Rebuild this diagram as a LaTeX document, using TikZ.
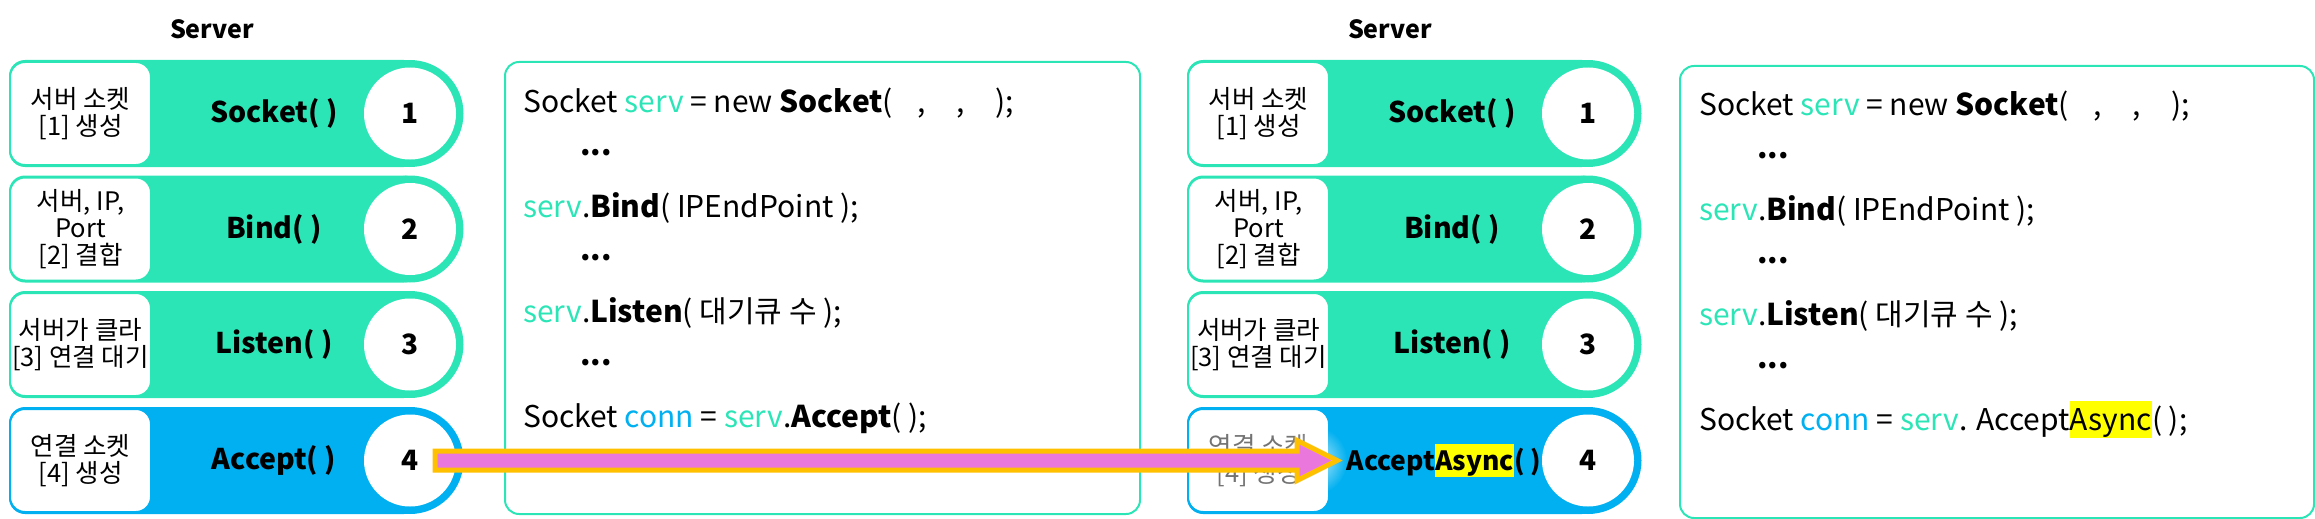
\documentclass[tikz,border=0pt]{standalone}
\usepackage{fontspec}
\setmainfont{Noto Sans CJK KR}
\usepackage{tikz}
\usetikzlibrary{calc,positioning,fadings}
\definecolor{tealc}{RGB}{44,229,183}
\definecolor{bluec}{RGB}{0,176,240}
\definecolor{goldc}{RGB}{255,192,0}
\definecolor{pinkc}{RGB}{234,120,220}
\definecolor{hlyel}{RGB}{255,255,0}
\newcommand{\sv}{\textcolor{tealc}{serv}}
\newcommand{\hlbox}[1]{{\setlength{\fboxsep}{0pt}\colorbox{hlyel}{\rule[-0.25em]{0pt}{1.22em}#1}}}
\tikzfading[name=glowfade, inner color=transparent!25, outer color=transparent!100]
\tikzset{
    % 제목과 단계 표시
    srvtitle/.style={font=\fontsize{25}{30}\selectfont\bfseries},
    labelbox/.style={
        draw=tealc, line width=2pt, fill=white, rounded corners=15pt,
        minimum width=141pt, minimum height=103pt, inner sep=0pt,
        align=center, font=\fontsize{25.5}{27}\selectfont
    },
    funclabel/.style={font=\fontsize{28.5}{32}\selectfont\bfseries},
    numcircle/.style={
        circle, fill=white, minimum size=92pt, inner sep=0pt,
        font=\fontsize{28}{30}\selectfont\bfseries
    },
    % 코드 상자
    codebox/.style={draw=tealc, line width=2pt, rounded corners=14pt, anchor=north west},
    codetxt/.style={anchor=base west, inner sep=0pt, font=\fontsize{30}{36}\selectfont},
    bigarrow/.style={draw=goldc, fill=pinkc, line width=5pt, line join=miter}
}
\begin{document}
\begin{tikzpicture}[x=1pt,y=-1pt]
    \useasboundingbox (0,0) rectangle (2315,519);

    \foreach \dx in {0,1178}{
      \foreach \yc/\col in {113.5/tealc,229/tealc,344.5/tealc,460.5/bluec}{
        \fill[\col, rounded corners=16pt] (9+\dx,\yc-53.5) rectangle (420+\dx,\yc+53.5);
        \fill[\col] (410+\dx,\yc) circle (53.5);
      }
    }

    \node[srvtitle] (srvA) at (212,29) {Server};
    \node[srvtitle] (srvB) at (1390,29) {Server};

    \node[labelbox] (lbA1) at (80.5,113.5) {서버 소켓\\{[1]} 생성};
    \node[labelbox] (lbA2) at (80.5,229) {서버, IP,\\Port\\{[2]} 결합};
    \node[labelbox] (lbA3) at (80.5,344.5) {서버가 클라\\{[3]} 연결 대기};
    \node[labelbox, draw=bluec] (lbA4) at (80.5,460.5) {연결 소켓\\{[4]} 생성};
    \node[labelbox] (lbB1) at (1258.5,113.5) {서버 소켓\\{[1]} 생성};
    \node[labelbox] (lbB2) at (1258.5,229) {서버, IP,\\Port\\{[2]} 결합};
    \node[labelbox] (lbB3) at (1258.5,344.5) {서버가 클라\\{[3]} 연결 대기};
    \node[labelbox, draw=bluec, text=black!55] (lbB4) at (1258.5,460.5) {연결 소켓\\{[4]} 생성};

    \node[funclabel] (fnA1) at (274,113.5) {Socket( )};
    \node[funclabel] (fnA2) at (274,229) {Bind( )};
    \node[funclabel] (fnA3) at (274,344.5) {Listen( )};
    \node[funclabel] (fnA4) at (274,460.5) {Accept( )};
    \node[funclabel] (fnB1) at (1452,113.5) {Socket( )};
    \node[funclabel] (fnB2) at (1452,229) {Bind( )};
    \node[funclabel] (fnB3) at (1452,344.5) {Listen( )};
    \node[funclabel, font=\fontsize{26.5}{30}\selectfont\bfseries] (fnB4) at (1444,460.5) {Accept\hlbox{Async}( )};

    \foreach \i/\yc in {1/113.5,2/229,3/344.5,4/460.5}{
      \node[numcircle] (numA\i) at (410,\yc) {\i};
      \node[numcircle] (numB\i) at (1588,\yc) {\i};
    }

    \node[codebox, minimum width=635pt, minimum height=452pt] (codeA) at (504,61) {};
    \node[codebox, minimum width=634pt, minimum height=452pt] (codeB) at (1679,65) {};

    \node[codetxt] (cA1) at (523,112) {Socket \sv{} = new \textbf{Socket}(\hspace{25pt},\hspace{30pt},\hspace{31pt});};
    \node[codetxt] (cA2) at (523,217) {\sv.\textbf{Bind}( IPEndPoint );};
    \node[codetxt] (cA3) at (523,322) {\sv.\textbf{Listen}( 대기큐 수 );};
    \node[codetxt] (cA4) at (523,427) {Socket \textcolor{bluec}{conn} = \sv.\textbf{Accept}( );};
    \node[codetxt] (cB1) at (1699,115) {Socket \sv{} = new \textbf{Socket}(\hspace{25pt},\hspace{30pt},\hspace{31pt});};
    \node[codetxt] (cB2) at (1699,220) {\sv.\textbf{Bind}( IPEndPoint );};
    \node[codetxt] (cB3) at (1699,325) {\sv.\textbf{Listen}( 대기큐 수 );};
    \node[codetxt] (cB4) at (1699,430) {Socket \textcolor{bluec}{conn} = \sv. Accept\hlbox{Async}( );};
    \foreach \k in {0,1,2}{
      \node[codetxt] (dotA\k) at (580,155+105*\k) {\textbf{...}};
      \node[codetxt] (dotB\k) at (1757,158+105*\k) {\textbf{...}};
    }

    % 화살표
    \coordinate (arrS) at ($(numA4.center)+(25,0)$);
    \coordinate (arrT) at ($(fnB4.west)+(-6,0)$);
    \fill[white, path fading=glowfade] ($(arrT)+(-22,0)$) ellipse (32 and 34);
    \draw[bigarrow] ($(arrS)+(0,-9.5)$) -- ($(arrT)+(-40,-9.5)$) -- ($(arrT)+(-40,-20)$)
        -- (arrT) -- ($(arrT)+(-40,20)$) -- ($(arrT)+(-40,9.5)$) -- ($(arrS)+(0,9.5)$) -- cycle;
\end{tikzpicture}
\end{document}
